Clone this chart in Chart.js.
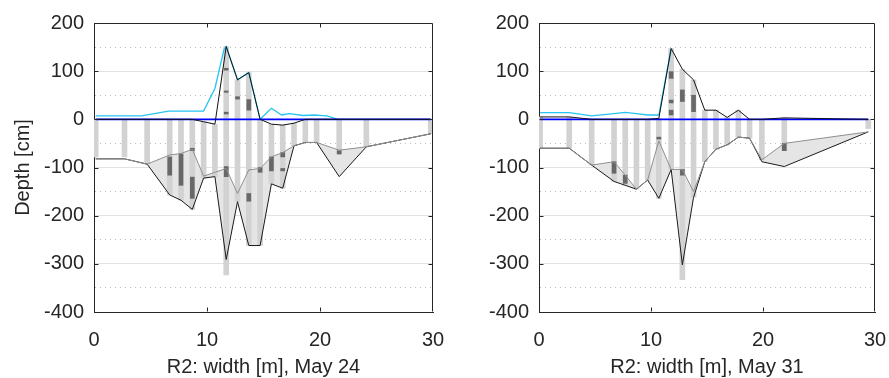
<!DOCTYPE html>
<html><head><meta charset="utf-8">
<script src="https://cdn.jsdelivr.net/npm/chart.js@4/dist/chart.umd.min.js"></script>
<style>
html,body{margin:0;padding:0;background:#fff}
body{width:889px;height:378px;position:relative;overflow:hidden}
canvas{position:absolute;top:0}
</style></head><body>
<canvas id="cA" width="445" height="378" style="left:0"></canvas>
<canvas id="cB" width="444" height="378" style="left:445px"></canvas>
<script>
// ---------- axis / labels ----------
const xTickLabels = [0, 10, 20, 30];
const yTickLabels = [-400, -300, -200, -100, 0, 100, 200];
const yTitle = 'Depth [cm]';
const xTitles = ['R2: width [m], May 24', 'R2: width [m], May 31'];

// ---------- May 24 (left) ----------
const stationsA = [0.15, 2.7, 4.7, 6.7, 7.7, 8.7, 9.7, 10.7, 11.7, 12.7, 13.7, 14.7, 15.7, 16.7, 17.7, 18.7, 19.7, 21.7, 24.1, 29.8];
const topA      = [0, 0, 0, 0, 0, 0, -5, -10, 151, 82, 97, 0, -10, -12, -8, 0, 0, 0, 0, 0];
const upperA    = [-82, -82, -93, -74, -71, -62, -118, -110, -102, -154, -105, -102, -78, -69, -55, -48, -48, -64, -57, -30];
const lowerA    = [-82, -82, -93, -157, -168, -187, -122, -119, -291, -171, -262, -262, -134, -143, -55, -48, -48, -119, -57, -30];
const barBotA   = [-78, -78, -93, -157, -168, -187, -122, -119, -323, -171, -262, -262, -134, -143, -55, -48, -48, -72, -57, -30];
const cyanXA    = [0.15, 4.2, 6.6, 9.7, 10.7, 11.5, 11.7, 12.7, 13.7, 14.7, 15.7, 16.6, 17.3, 18.5, 19.5, 20.6, 21.6, 29.8];
const cyanYA    = [7, 7, 17, 17, 64, 145, 151, 82, 97, 0, 23, 9, 12, 8, 9, 7, 0, 0];
const darkXA    = [6.7, 7.7, 8.7, 8.7, 11.7, 11.7, 11.7, 11.7, 12.7, 13.7, 13.7, 14.7, 15.7, 16.7, 16.7, 21.7];
const darkLoA   = [-116, -137, -65, -164, 102, 56, 11, -119, 42, 19, -170, -110, -107, -78, -107, -72];
const darkHiA   = [-78, -72, -60, -120, 106, 59, 15, -98, 47, 41, -154, -100, -78, -69, -102, -65];

// ---------- May 31 (right) ----------
const stationsB = [0.1, 2.7, 4.7, 6.7, 7.7, 8.7, 9.7, 10.7, 11.8, 12.8, 13.8, 14.8, 15.8, 16.8, 17.8, 18.8, 19.9, 21.9, 29.4];
const topB      = [5, 5, 0, 0, 0, 0, 0, 2, 147, 104, 82, 19, 19, 4, 19, 0, 0, 3, 0];
const upperB    = [-60, -60, -95, -88, -116, -145, -126, -45, -104, -104, -150, -88, -62, -53, -37, -39, -84, -50, -26];
const lowerB    = [-60, -60, -95, -129, -137, -145, -126, -164, -104, -302, -162, -88, -62, -53, -37, -39, -88, -98, -26];
const barBotB   = [-60, -60, -95, -129, -137, -145, -126, -164, -104, -333, -162, -88, -62, -53, -37, -39, -84, -65, -19];
const cyanXB    = [0.1, 2.7, 4.7, 6.7, 7.7, 8.7, 9.7, 10.7, 11.8];
const cyanYB    = [14, 14, 7, 12, 14.5, 12, 9, 9, 147];
const darkXB    = [6.7, 7.7, 10.7, 11.8, 11.8, 11.8, 12.8, 12.8, 13.8, 21.9];
const darkLoB   = [-112, -133, -41, 85, 34, 9, 37, -116, 16, -65];
const darkHiB   = [-88, -116, -37, 99, 40, 19, 61, -104, 50, -50];

const FONT = {family: '"Liberation Sans", Arial, Helvetica, sans-serif', size: 20};
const TXT = '#262626';

const framePlugin = {
  id: 'frame',
  afterDraw(ch) {
    const {ctx, chartArea: a, scales: {x, y}} = ch;
    ctx.save();
    ctx.strokeStyle = TXT;
    ctx.lineWidth = 1;
    ctx.beginPath();
    const L = Math.round(a.left) + 0.5, R = Math.round(a.right) - 0.5;
    const T = Math.round(a.top) + 0.5, B = Math.round(a.bottom) - 0.5;
    ctx.moveTo(L, T); ctx.lineTo(R, T); ctx.lineTo(R, B);
    xTickLabels.slice(1, -1).forEach(v => {
      const px = Math.round(x.getPixelForValue(v)) + 0.5;
      ctx.moveTo(px, B); ctx.lineTo(px, B - 4);
      ctx.moveTo(px, T); ctx.lineTo(px, T + 4);
    });
    yTickLabels.slice(1, -1).forEach(v => {
      const py = Math.round(y.getPixelForValue(v)) + 0.5;
      ctx.moveTo(L, py); ctx.lineTo(L + 4, py);
      ctx.moveTo(R, py); ctx.lineTo(R - 4, py);
    });
    ctx.stroke();
    ctx.restore();
  }
};

function build(id, d, title, showY, padRight) {
  const pts = (xs, ys) => xs.map((x, i) => ({x, y: ys[i]}));
  const rng = (xs, lo, hi) => xs.map((x, i) => ({x, y: [lo[i], hi[i]]}));
  const last = d.st.length - 1;
  return new Chart(document.getElementById(id), {
    type: 'line',
    data: {datasets: [
      {type: 'bar', data: rng(d.st, d.barBot, d.top), backgroundColor: '#d2d2d2', barThickness: 5, grouped: false, borderWidth: 0, order: 10},
      {type: 'bar', data: rng(d.darkX, d.darkLo, d.darkHi), backgroundColor: '#686868', barThickness: 4, grouped: false, borderWidth: 0, order: 9},
      {data: pts(d.cyanX, d.cyanY), borderColor: '#26c4f0', borderWidth: 1.3, order: 8},
      {data: pts([d.st[0], d.st[last]], [0, 0]), borderColor: '#0000ff', borderWidth: 1.6, order: 7},
      {data: pts(d.st, d.lower), borderColor: '#1a1a1a', borderWidth: 1, order: 6},
      {data: pts(d.st, d.upper), borderColor: '#8f8f8f', borderWidth: 1, order: 5, fill: 4, backgroundColor: '#e5e5e5'},
      {data: pts(d.st, d.top), borderColor: '#111111', borderWidth: 1, order: 4}
    ]},
    options: {
      responsive: false, animation: false, devicePixelRatio: 1,
      layout: {padding: {left: 0, right: padRight, top: 23, bottom: 0}},
      elements: {point: {radius: 0}, line: {tension: 0}},
      plugins: {legend: {display: false}, tooltip: {enabled: false},
                filler: {drawTime: 'beforeDatasetsDraw', propagate: false}},
      scales: {
        x: {type: 'linear', min: 0, max: 30, offset: false,
            afterFit: s => { s.height = 66; s.paddingLeft = 0; s.paddingRight = 0; },
            ticks: {stepSize: 10, autoSkip: false, maxRotation: 0, padding: 16, font: FONT, color: TXT,
                    callback: v => xTickLabels.includes(v) ? String(v) : ''},
            grid: {display: true, drawOnChartArea: false, drawTicks: false},
            border: {display: true, color: TXT, width: 1},
            title: {display: true, text: title, color: TXT, font: {...FONT, lineHeight: 1}, padding: {top: 0, bottom: 1}}},
        y: {type: 'linear', min: -400, max: 200,
            afterFit: s => { s.width = 94; },
            ticks: {stepSize: 50, autoSkip: false, padding: 10, font: FONT, color: TXT,
                    callback: v => yTickLabels.includes(v) ? String(v) : ''},
            grid: {drawTicks: false, lineWidth: 1,
                   color: c => (c.tick && c.tick.value % 100 !== 0) ? '#bdbdbd' : '#e2e2e2'},
            border: {display: true, color: TXT, width: 1,
                     dash: c => (c.tick && c.tick.value % 100 !== 0) ? [1, 4] : []},
            title: {display: showY, text: yTitle, color: TXT, font: {...FONT, lineHeight: 1}, padding: {top: 13, bottom: 0}}}
      }
    },
    plugins: [framePlugin]
  });
}

build('cA', {st: stationsA, top: topA, upper: upperA, lower: lowerA, barBot: barBotA,
             cyanX: cyanXA, cyanY: cyanYA, darkX: darkXA, darkLo: darkLoA, darkHi: darkHiA},
      xTitles[0], true, 12);
build('cB', {st: stationsB, top: topB, upper: upperB, lower: lowerB, barBot: barBotB,
             cyanX: cyanXB, cyanY: cyanYB, darkX: darkXB, darkLo: darkLoB, darkHi: darkHiB},
      xTitles[1], false, 14);
</script>
</body></html>
